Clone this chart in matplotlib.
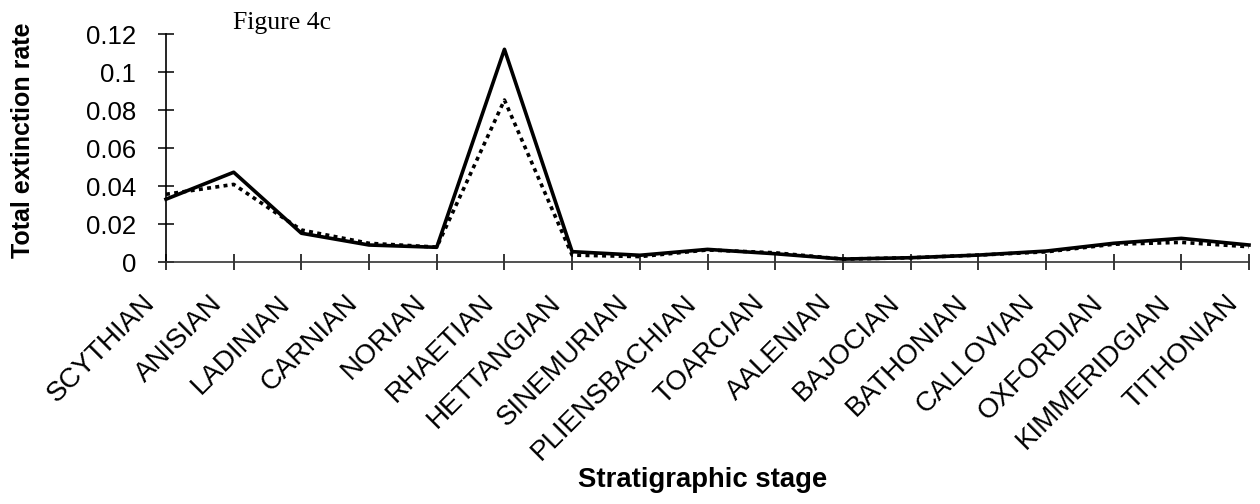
import matplotlib
matplotlib.use("Agg")
import matplotlib.pyplot as plt
from matplotlib.transforms import ScaledTranslation

stages = ["SCYTHIAN", "ANISIAN", "LADINIAN", "CARNIAN", "NORIAN", "RHAETIAN",
          "HETTANGIAN", "SINEMURIAN", "PLIENSBACHIAN", "TOARCIAN", "AALENIAN",
          "BAJOCIAN", "BATHONIAN", "CALLOVIAN", "OXFORDIAN", "KIMMERIDGIAN",
          "TITHONIAN"]
solid_rate = [0.0332, 0.0474, 0.0153, 0.0091, 0.0079, 0.1121, 0.0056, 0.0037,
              0.0068, 0.0045, 0.0017, 0.0024, 0.0038, 0.0059, 0.0100, 0.0126,
              0.0091]
dotted_rate = [0.0358, 0.0410, 0.0170, 0.0100, 0.0080, 0.0854, 0.0038, 0.0030,
               0.0065, 0.0050, 0.0017, 0.0024, 0.0038, 0.0055, 0.0095, 0.0105,
               0.0082]
yticks = [0, 0.02, 0.04, 0.06, 0.08, 0.1, 0.12]
yticklabels = ["0", "0.02", "0.04", "0.06", "0.08", "0.1", "0.12"]

plt.rcParams['font.family'] = ['Liberation Sans', 'DejaVu Sans']

W, H = 1260, 504
fig = plt.figure(figsize=(W / 100, H / 100), dpi=100)
ax = fig.add_axes([166 / W, 1 - 262.3 / H, (1249 - 166) / W, (262.3 - 34.3) / H])

x = list(range(len(stages)))
ax.plot(x, dotted_rate, color='black', lw=2.6, linestyle=(0, (1.1, 1.2)), clip_on=False)
ax.plot(x, solid_rate, color='black', lw=2.6, clip_on=False)

ax.set_xlim(0, len(stages) - 1)
ax.set_ylim(0, 0.12)
ax.spines['top'].set_visible(False)
ax.spines['right'].set_visible(False)
ax.spines['left'].set_linewidth(1.2)
ax.spines['bottom'].set_linewidth(1.2)
ax.spines['bottom'].set_color('#333333')

ax.set_yticks(yticks)
ax.set_yticklabels(yticklabels, fontsize=18.5)
ax.set_xticks(x)
ax.set_xticklabels([])
ax.tick_params(axis='y', direction='inout', length=11, width=1.1, pad=16)
ax.tick_params(axis='x', direction='inout', length=12, width=1.1)

lab_tr = ax.get_xaxis_transform() + ScaledTranslation(-10 / 100, -42 / 100,
                                                      fig.dpi_scale_trans)
for i, name in zip(x, stages):
    ax.text(i, 0, name, transform=lab_tr, fontsize=20, rotation=45, ha='right',
            va='baseline', rotation_mode='anchor', clip_on=False)

fig.text(23 / W, 1 - 140 / H, "Total extinction rate", rotation=90, ha='center',
         va='center', fontsize=18, fontweight='bold')
fig.text(703 / W, 1 - 487 / H, "Stratigraphic stage", ha='center', va='baseline',
         fontsize=19.8, fontweight='bold')
fig.text(233 / W, 1 - 29 / H, "Figure 4c", ha='left', va='baseline', fontsize=18.5,
         family=['Liberation Serif', 'DejaVu Serif'])

fig.savefig("out.png", dpi=100)
